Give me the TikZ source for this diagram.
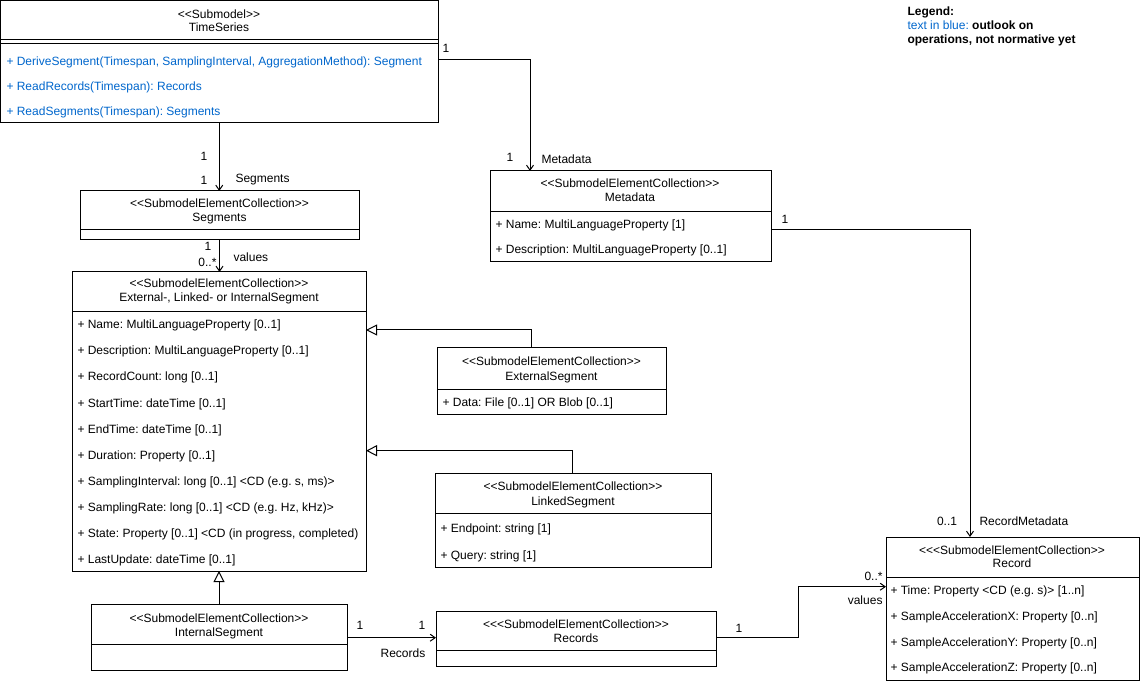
\documentclass[tikz,border=0pt]{standalone}
\usepackage{fontspec}
\setmainfont{Liberation Sans}[Ligatures=TeXOff]
\usetikzlibrary{arrows.meta,calc}
\definecolor{opblue}{RGB}{0,102,204}
\frenchspacing
\begin{document}
\frenchspacing
\begin{tikzpicture}[x=1pt,y=-1pt,line width=1pt,
  every node/.style={font=\fontsize{12}{14}\selectfont\frenchspacing},
  box/.style={draw, anchor=north west, inner sep=0pt, outer sep=0pt},
  tc/.style={inner sep=0pt, anchor=base},
  tl/.style={inner sep=0pt, anchor=base west},
  tr/.style={inner sep=0pt, anchor=base east},
  op/.style={tl, text=opblue},
  assoc/.style={-{Straight Barb[length=5pt,width=7pt,line width=1pt]}},
  gen/.style={-{Triangle[open,fill=white,length=11pt,width=11pt,line width=1pt]}}]
\useasboundingbox (0,0) rectangle (1140,684);

% ---------- boxes ----------
\node[box, minimum width=437.5pt, minimum height=122.5pt] (ts) at (0.5,0.5) {};
\node[box, minimum width=279pt, minimum height=49pt] (seg) at (80,191) {};
\node[box, minimum width=294pt, minimum height=299pt] (ext) at (72,272) {};
\node[box, minimum width=229pt, minimum height=66pt] (extseg) at (437,348) {};
\node[box, minimum width=276pt, minimum height=94pt] (linked) at (435,473) {};
\node[box, minimum width=256pt, minimum height=66pt] (internal) at (91,604) {};
\node[box, minimum width=280pt, minimum height=55pt] (records) at (436,611) {};
\node[box, minimum width=281pt, minimum height=91pt] (meta) at (490,171) {};
\node[box, minimum width=253pt, minimum height=143pt] (record) at (886,537) {};

% ---------- separators ----------
\draw (ts.west |- 0,40) -- (ts.east |- 0,40);
\draw (ts.west |- 0,44) -- (ts.east |- 0,44);
\draw (seg.west |- 0,230) -- (seg.east |- 0,230);
\draw (ext.west |- 0,312) -- (ext.east |- 0,312);
\draw (extseg.west |- 0,389) -- (extseg.east |- 0,389);
\draw (linked.west |- 0,513) -- (linked.east |- 0,513);
\draw (internal.west |- 0,644) -- (internal.east |- 0,644);
\draw (records.west |- 0,650) -- (records.east |- 0,650);
\draw (meta.west |- 0,212) -- (meta.east |- 0,212);
\draw (record.west |- 0,577) -- (record.east |- 0,577);

% ---------- TimeSeries ----------
\node[tc] (tsh1) at (219,19) {<<Submodel>>};
\node[tc] (tsh2) at (219,32) {TimeSeries};
\node[op] (tso1) at (6,66) {+ DeriveSegment(Timespan, SamplingInterval, AggregationMethod): Segment};
\node[op] (tso2) at (6,91) {+ ReadRecords(Timespan): Records};
\node[op] (tso3) at (6,116) {+ ReadSegments(Timespan): Segments};

% ---------- Segments ----------
\node[tc] (segh1) at (219.5,208) {<<SubmodelElementCollection>>};
\node[tc] (segh2) at (219.5,222) {Segments};

% ---------- External-, Linked- or InternalSegment ----------
\node[tc] (exth1) at (219,288) {<<SubmodelElementCollection>>};
\node[tc] (exth2) at (219,302) {External-, Linked- or InternalSegment};
\node[tl] (exta1) at (77,329) {+ Name: MultiLanguageProperty [0..1]};
\node[tl] (exta2) at (77,355) {+ Description: MultiLanguageProperty [0..1]};
\node[tl] (exta3) at (77,381) {+ RecordCount: long [0..1]};
\node[tl] (exta4) at (77,407) {+ StartTime: dateTime [0..1]};
\node[tl] (exta5) at (77,433) {+ EndTime: dateTime [0..1]};
\node[tl] (exta6) at (77,459) {+ Duration: Property [0..1]};
\node[tl] (exta7) at (77,485) {+ SamplingInterval: long [0..1] <CD (e.g. s, ms)>};
\node[tl] (exta8) at (77,511) {+ SamplingRate: long [0..1] <CD (e.g. Hz, kHz)>};
\node[tl] (exta9) at (77,537) {+ State: Property [0..1] <CD (in progress, completed)};
\node[tl] (exta10) at (77,563) {+ LastUpdate: dateTime [0..1]};

% ---------- ExternalSegment ----------
\node[tc] (esh1) at (551.5,366) {<<SubmodelElementCollection>>};
\node[tc] (esh2) at (551.5,380) {ExternalSegment};
\node[tl] (esa1) at (442,406) {+ Data: File [0..1] OR Blob [0..1]};

% ---------- LinkedSegment ----------
\node[tc] (lsh1) at (573,490) {<<SubmodelElementCollection>>};
\node[tc] (lsh2) at (573,505) {LinkedSegment};
\node[tl] (lsa1) at (440,532) {+ Endpoint: string [1]};
\node[tl] (lsa2) at (440,559) {+ Query: string [1]};

% ---------- InternalSegment ----------
\node[tc] (ish1) at (219,622) {<<SubmodelElementCollection>>};
\node[tc] (ish2) at (219,636) {InternalSegment};

% ---------- Records ----------
\node[tc] (rsh1) at (576,628) {<<<SubmodelElementCollection>>};
\node[tc] (rsh2) at (576,642) {Records};

% ---------- Metadata ----------
\node[tc] (mdh1) at (630,188) {<<SubmodelElementCollection>>};
\node[tc] (mdh2) at (630,202) {Metadata};
\node[tl] (mda1) at (495,229) {+ Name: MultiLanguageProperty [1]};
\node[tl] (mda2) at (495,254) {+ Description: MultiLanguageProperty [0..1]};

% ---------- Record ----------
\node[tc] (rch1) at (1012,554) {<<<SubmodelElementCollection>>};
\node[tc] (rch2) at (1012,567) {Record};
\node[tl] (rca1) at (890,594) {+ Time: Property <CD (e.g. s)> [1..n]};
\node[tl] (rca2) at (890,620.5) {+ SampleAccelerationX: Property [0..n]};
\node[tl] (rca3) at (890,646.5) {+ SampleAccelerationY: Property [0..n]};
\node[tl] (rca4) at (890,671.5) {+ SampleAccelerationZ: Property [0..n]};

% ---------- Legend ----------
\node[tl] (lg1) at (907,15.5) {\bfseries Legend:};
\node[tl] (lg2) at (907,29.5) {{\color{opblue}text in blue:} \bfseries outlook on};
\node[tl] (lg3) at (907,43.5) {\bfseries operations, not normative yet};

% ---------- connectors ----------
\draw[assoc] (ts.south) -- (ts.south |- seg.north);
\draw[assoc] (seg.south) -- (seg.south |- ext.north);
\draw[assoc] (ts.east |- 0,59.3) -| ([xshift=40pt]meta.north west);
\draw[assoc] (meta.east |- 0,229.3) -| ([xshift=84pt]record.north west);
\draw[gen] ([xshift=94pt]extseg.north west) |- (ext.east |- 0,330);
\draw[gen] ([xshift=137pt]linked.north west) |- (ext.east |- 0,450.7);
\draw[gen] (internal.north) -- (internal.north |- ext.south);
\draw[assoc] (internal.east |- 0,637.7) -- (records.west |- 0,637.7);
\draw[assoc] (records.east |- 0,637.7) -- ++(82,0) |- (record.west |- 0,586.7);

% ---------- connector labels ----------
\node[tc] (l1) at (204,161) {1};
\node[tc] (l2) at (204,185) {1};
\node[tl] (l3) at (235,183) {Segments};
\node[tc] (l4) at (208,251) {1};
\node[tr] (l5) at (217,267) {0..*};
\node[tl] (l6) at (233,262) {values};
\node[tc] (l7) at (446,52.5) {1};
\node[tc] (l8) at (510,161.5) {1};
\node[tl] (l9) at (541,163.5) {Metadata};
\node[tc] (l10) at (785,224) {1};
\node[tc] (l11) at (947,525) {0..1};
\node[tl] (l12) at (979,525) {RecordMetadata};
\node[tc] (l13) at (360,629) {1};
\node[tc] (l14) at (422,629) {1};
\node[tc] (l15) at (403,657) {Records};
\node[tc] (l16) at (739,632) {1};
\node[tr] (l17) at (883,580) {0..*};
\node[tr] (l18) at (883,604) {values};
\end{tikzpicture}
\end{document}
